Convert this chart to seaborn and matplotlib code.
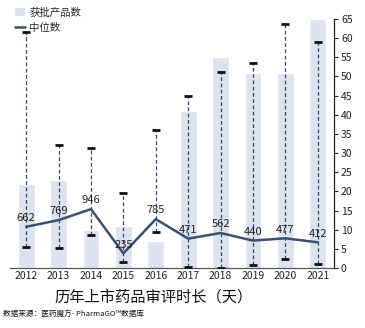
import numpy as np
import pandas as pd
import matplotlib
matplotlib.use("Agg")
import matplotlib.pyplot as plt
import seaborn as sns
from matplotlib.patches import Patch
from matplotlib.lines import Line2D

sns.set_theme(style="white")
plt.rcParams['font.family'] = ['Noto Sans CJK SC', 'DejaVu Sans']

years = ["2012", "2013", "2014", "2015", "2016", "2017", "2018", "2019", "2020", "2021"]
approved = [22, 23, 10, 11, 7, 41, 55, 51, 51, 65]
median_days = [662, 769, 946, 235, 785, 471, 562, 440, 477, 412]
min_days = [337, 326, 529, 101, 583, 21, 0, 48, 140, 64]
max_days = [3790, 1975, 1920, 1210, 2216, 2767, 3142, 3297, 3928, 3634]

bar_color = "#dde3ee"
line_color = "#3d4f6e"

fig = plt.figure(figsize=(3.65, 3.28), dpi=100)
ax = fig.add_axes([0.0274, 0.183, 0.8876, 0.759])

df = pd.DataFrame({"year": years, "approved": approved})
sns.barplot(data=df, x="year", y="approved", ax=ax, color=bar_color, width=0.52,
            saturation=1, zorder=1)

ax2 = ax.twinx()
ax2.set_ylim(0, 4000)
xs = np.arange(len(years))
med = np.array(median_days)
lo = med - np.array(min_days)
hi = np.array(max_days) - med
eb = ax2.errorbar(xs, med, yerr=[lo, hi], fmt="none", ecolor="#3a4a66",
                  elinewidth=0.9, capsize=3, capthick=2, zorder=2)
eb[2][0].set_linestyle((0, (3, 2)))
for c in eb[1]:
    c.set_color("#111111")
    c.set_markeredgecolor("#111111")
sns.lineplot(x=xs, y=med, ax=ax2, color=line_color, linewidth=1.8, zorder=3)
for x, v in zip(xs, median_days):
    ax2.text(x, v + 60, str(v), ha="center", va="bottom", fontsize=8,
             color="#222222", zorder=4)
ax2.set_yticks([])
for s in ["top", "left", "right", "bottom"]:
    ax2.spines[s].set_visible(False)

ax.set_xlim(-0.5, 9.5)
ax.set_ylim(0, 65)
ax.yaxis.tick_right()
ax.yaxis.set_label_position("right")
ax.set_yticks(range(0, 66, 5))
ax.tick_params(axis='y', which='both', left=False, labelleft=False, right=True,
               labelright=True, direction='out', length=3, width=0.8,
               color="#222222", labelsize=7.5, pad=2, labelcolor="#222222")
ax.tick_params(axis='x', length=0, labelsize=7.5, pad=2, labelcolor="#222222")
ax.set_xlabel("")
ax.set_ylabel("")
for s in ["top", "left"]:
    ax.spines[s].set_visible(False)
ax.spines["right"].set_color("#222222")
ax.spines["right"].set_linewidth(0.9)
ax.spines["bottom"].set_color("#555555")
ax.spines["bottom"].set_linewidth(0.9)

handles = [Patch(facecolor=bar_color, edgecolor="none"),
           Line2D([0], [0], color=line_color, linewidth=1.8)]
fig.legend(handles, ["获批产品数", "中位数"], loc="upper left",
           bbox_to_anchor=(0.02, 1.0), frameon=False, fontsize=7.5,
           handlelength=1.0, handleheight=0.8, handletextpad=0.4,
           labelspacing=0.5, borderaxespad=0.3)

fig.text(0.42, 0.095, "历年上市药品审评时长（天）", ha="center", va="center",
         fontsize=11, color="#111111")
fig.text(0.008, 0.04, "数据来源：医药魔方- PharmaGO™数据库", ha="left",
         va="center", fontsize=5.5, color="#111111")

fig.savefig("out.png", dpi=100)
